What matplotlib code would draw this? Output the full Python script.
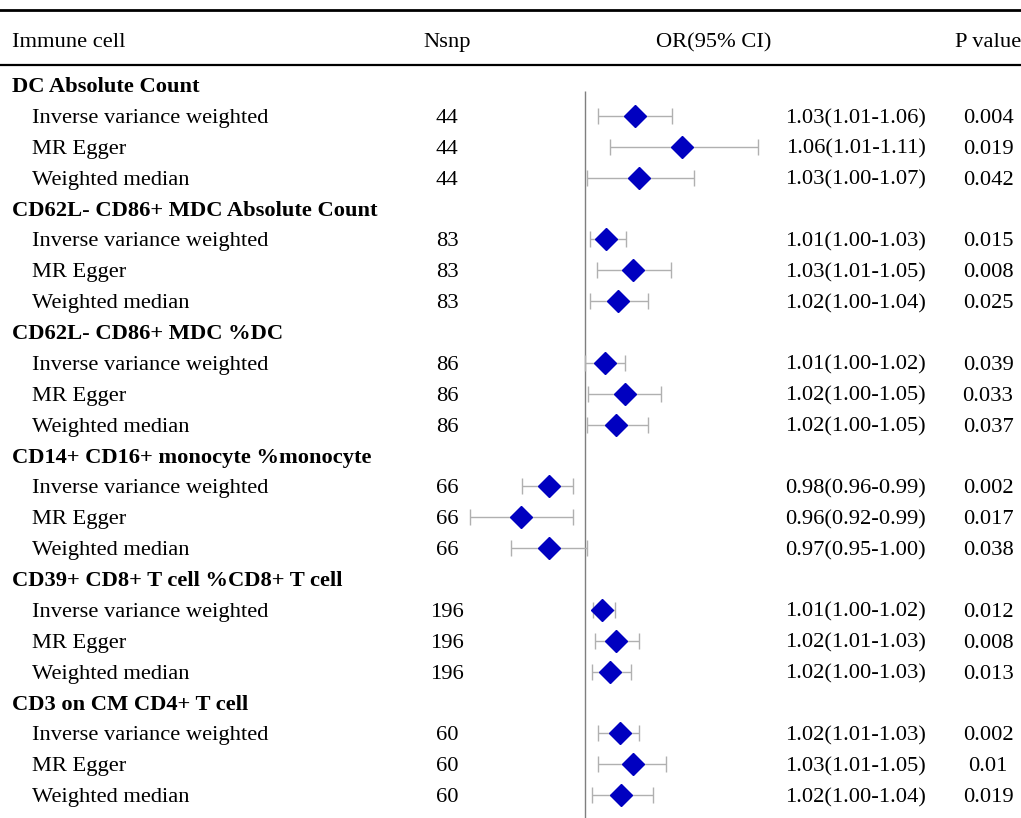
import numpy as np
import matplotlib
matplotlib.use("Agg")
import matplotlib.pyplot as plt

plt.rcParams['font.family'] = ['Liberation Serif', 'DejaVu Serif']

groups = ["DC Absolute Count",
          "CD62L- CD86+ MDC Absolute Count",
          "CD62L- CD86+ MDC %DC",
          "CD14+ CD16+ monocyte %monocyte",
          "CD39+ CD8+ T cell %CD8+ T cell",
          "CD3 on CM CD4+ T cell"]
methods = ["Inverse variance weighted", "MR Egger", "Weighted median"]
nsnp = [44, 83, 86, 66, 196, 60]

# per group, per method (IVW, Egger, WM)
or_est = [[1.030, 1.059, 1.033],
          [1.013, 1.029, 1.020],
          [1.012, 1.024, 1.019],
          [0.978, 0.961, 0.978],
          [1.010, 1.019, 1.015],
          [1.021, 1.029, 1.022]]
or_lo = [[1.008, 1.015, 1.001],
         [1.003, 1.007, 1.003],
         [1.000, 1.002, 1.001],
         [0.962, 0.930, 0.955],
         [1.005, 1.006, 1.004],
         [1.008, 1.008, 1.004]]
or_hi = [[1.053, 1.105, 1.066],
         [1.025, 1.052, 1.038],
         [1.024, 1.046, 1.038],
         [0.993, 0.993, 1.001],
         [1.018, 1.033, 1.028],
         [1.033, 1.049, 1.041]]
or_txt = [["1.03(1.01-1.06)", "1.06(1.01-1.11)", "1.03(1.00-1.07)"],
          ["1.01(1.00-1.03)", "1.03(1.01-1.05)", "1.02(1.00-1.04)"],
          ["1.01(1.00-1.02)", "1.02(1.00-1.05)", "1.02(1.00-1.05)"],
          ["0.98(0.96-0.99)", "0.96(0.92-0.99)", "0.97(0.95-1.00)"],
          ["1.01(1.00-1.02)", "1.02(1.01-1.03)", "1.02(1.00-1.03)"],
          ["1.02(1.01-1.03)", "1.03(1.01-1.05)", "1.02(1.00-1.04)"]]
pvals = [["0.004", "0.019", "0.042"],
         ["0.015", "0.008", "0.025"],
         ["0.039", "0.033", "0.037"],
         ["0.002", "0.017", "0.038"],
         ["0.012", "0.008", "0.013"],
         ["0.002", "0.01", "0.019"]]

W, H = 1021, 818
fig = plt.figure(figsize=(W / 100, H / 100), dpi=100)

row_h = 30.87
y0 = 85.0
ytop = -y0 / row_h
ybot = (H - y0) / row_h

# text layer in pixel x, row-unit y
ax = fig.add_axes([0, 0, 1, 1])
ax.set_xlim(0, W)
ax.set_ylim(ybot, ytop)
ax.axis('off')

fs = 16.2
va = 'center_baseline'
ax.axhline((10 - y0) / row_h, color='black', lw=2.0)
ax.axhline((65 - y0) / row_h, color='black', lw=1.6)
yh = (40 - y0) / row_h
ax.text(12, yh, "Immune cell", fontsize=fs, va=va)
ax.text(447, yh, "Nsnp", fontsize=fs, va=va, ha='center')
ax.text(714, yh, "OR(95% CI)", fontsize=fs, va=va, ha='center')
ax.text(955, yh, "P value", fontsize=fs, va=va)

# forest axes: OR=1 at x=585 px, 1650 px per unit
fx0, fx1 = 440, 800
fax = fig.add_axes([fx0 / W, 0, (fx1 - fx0) / W, 1])
fax.set_xlim(1 + (fx0 - 585) / 1650, 1 + (fx1 - 585) / 1650)
fax.set_ylim(ybot, ytop)
fax.axis('off')
fax.vlines(1.0, 0.2, ybot, color='#7f7f7f', lw=1.0)

row = 0
for g in range(len(groups)):
    ax.text(12, row, groups[g], fontsize=fs, fontweight='bold', va=va)
    row += 1
    for m in range(3):
        ax.text(32, row, methods[m], fontsize=fs, va=va)
        ax.text(447, row, str(nsnp[g]), fontsize=fs, va=va, ha='center')
        ax.text(926, row, or_txt[g][m], fontsize=fs, va=va, ha='right')
        ax.text(988, row, pvals[g][m], fontsize=fs, va=va, ha='center')
        est = or_est[g][m]
        fax.errorbar(est, row, xerr=[[est - or_lo[g][m]], [or_hi[g][m] - est]],
                     fmt='none', ecolor='#b0b0b0', elinewidth=1.0, capsize=5.5)
        fax.plot(est, row, marker='D', color='#0000c0', markersize=11, ls='none')
        row += 1

fig.savefig("out.png", dpi=100)
